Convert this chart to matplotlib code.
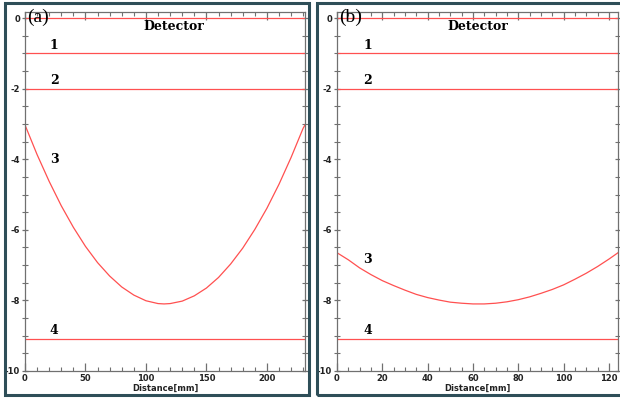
import matplotlib
matplotlib.use("Agg")
import matplotlib.pyplot as plt
from matplotlib.patches import Rectangle
from matplotlib.ticker import MultipleLocator

plt.rcParams["axes.unicode_minus"] = False

# ---- data ----
layer_depths = [0.0, -1.0, -2.0, -9.1]          # Detector, 1, 2, 4
layer_labels = ["Detector", "1", "2", "3", "4"]

xa = [0, 10, 20, 30, 40, 50, 60, 70, 80, 90, 100, 110, 115, 120, 130, 140,
      150, 160, 170, 180, 190, 200, 210, 220, 230, 231.5]
ya = [-3.03, -3.87, -4.63, -5.32, -5.93, -6.47, -6.93, -7.31, -7.62, -7.85,
      -8.01, -8.09, -8.10, -8.09, -8.02, -7.87, -7.65, -7.35, -6.97, -6.52,
      -5.99, -5.39, -4.71, -3.95, -3.12, -3.03]

xb = [0, 5, 10, 15, 20, 25, 30, 35, 40, 45, 50, 55, 60, 62, 65, 70, 75, 80,
      85, 90, 95, 100, 105, 110, 115, 120, 124]
yb = [-6.65, -6.85, -7.08, -7.27, -7.44, -7.58, -7.71, -7.83, -7.92, -7.99,
      -8.05, -8.08, -8.10, -8.10, -8.10, -8.08, -8.04, -7.98, -7.90, -7.80,
      -7.69, -7.56, -7.40, -7.23, -7.04, -6.83, -6.65]

panel_tags = ["(a)", "(b)"]
xmax = [231.5, 124]
xmajor = [50, 20]
xminor = [10, 5]
label_x = [20.5, 11.5]
det_x = [123, 62]
label3_y = [-4.0, -6.85]

W, H = 620, 401
fig = plt.figure(figsize=(W / 100, H / 100), dpi=100)

red = "#ff5050"
gray = "#707070"
border = "#2e4e58"

tickfam = ["Liberation Sans Narrow", "DejaVu Sans"]
serif = ["DejaVu Serif"]
tagserif = ["Liberation Serif", "DejaVu Serif"]

# panel borders
for (l, r) in [(5, 309), (317, 622)]:
    fig.patches.append(Rectangle((l / W, 1 - 395 / H), (r - l) / W, (395 - 3) / H,
                                 transform=fig.transFigure, fill=False,
                                 edgecolor=border, linewidth=2.2, zorder=0))

axes_px = [(25, 305), (337, 618)]
curves = [(xa, ya), (xb, yb)]
for i, (l, r) in enumerate(axes_px):
    ax = fig.add_axes([l / W, 1 - 371 / H, (r - l) / W, (371 - 12) / H])
    ax.set_xlim(0, xmax[i])
    ax.set_ylim(-10, 0.17)
    for d in layer_depths:
        ax.axhline(d, color=red, lw=0.9)
    ax.plot(curves[i][0], curves[i][1], color=red, lw=0.9)

    ax.xaxis.set_major_locator(MultipleLocator(xmajor[i]))
    ax.xaxis.set_minor_locator(MultipleLocator(xminor[i]))
    ax.yaxis.set_major_locator(MultipleLocator(2))
    ax.yaxis.set_minor_locator(MultipleLocator(0.5))
    ax.tick_params(axis="x", which="both", direction="in", top=True, bottom=True,
                   colors=gray, labelcolor="#222222", pad=2)
    ax.tick_params(axis="x", which="major", length=6, width=0.9)
    ax.tick_params(axis="x", which="minor", length=3, width=0.8)
    ax.tick_params(axis="y", which="both", direction="inout", left=True, right=True,
                   colors=gray, labelcolor="#222222", pad=1)
    ax.tick_params(axis="y", which="major", length=5, width=0.9)
    ax.tick_params(axis="y", which="minor", length=4, width=0.8)
    for lab in ax.get_xticklabels() + ax.get_yticklabels():
        lab.set_fontfamily(tickfam)
        lab.set_fontweight("bold")
        lab.set_fontsize(6)
    for s in ax.spines.values():
        s.set_color(gray)
        s.set_linewidth(0.9)
    ax.set_xlabel("Distance[mm]", fontfamily=tickfam, fontweight="bold",
                  fontsize=6, labelpad=1, color="#222222")

    ax.text(det_x[i], -0.24, layer_labels[0], ha="center", va="center",
            fontfamily=serif, fontweight="bold", fontsize=9)
    ax.text(label_x[i], -0.78, layer_labels[1], ha="left", va="center",
            fontfamily=serif, fontweight="bold", fontsize=9)
    ax.text(label_x[i], -1.78, layer_labels[2], ha="left", va="center",
            fontfamily=serif, fontweight="bold", fontsize=9)
    ax.text(label_x[i], label3_y[i], layer_labels[3], ha="left", va="center",
            fontfamily=serif, fontweight="bold", fontsize=9)
    ax.text(label_x[i], -8.85, layer_labels[4], ha="left", va="center",
            fontfamily=serif, fontweight="bold", fontsize=9)

    fig.text((l + 2) / W, 1 - 17 / H, panel_tags[i], ha="left", va="center",
             fontfamily=tagserif, fontsize=14)

fig.savefig("out.png", dpi=100)
